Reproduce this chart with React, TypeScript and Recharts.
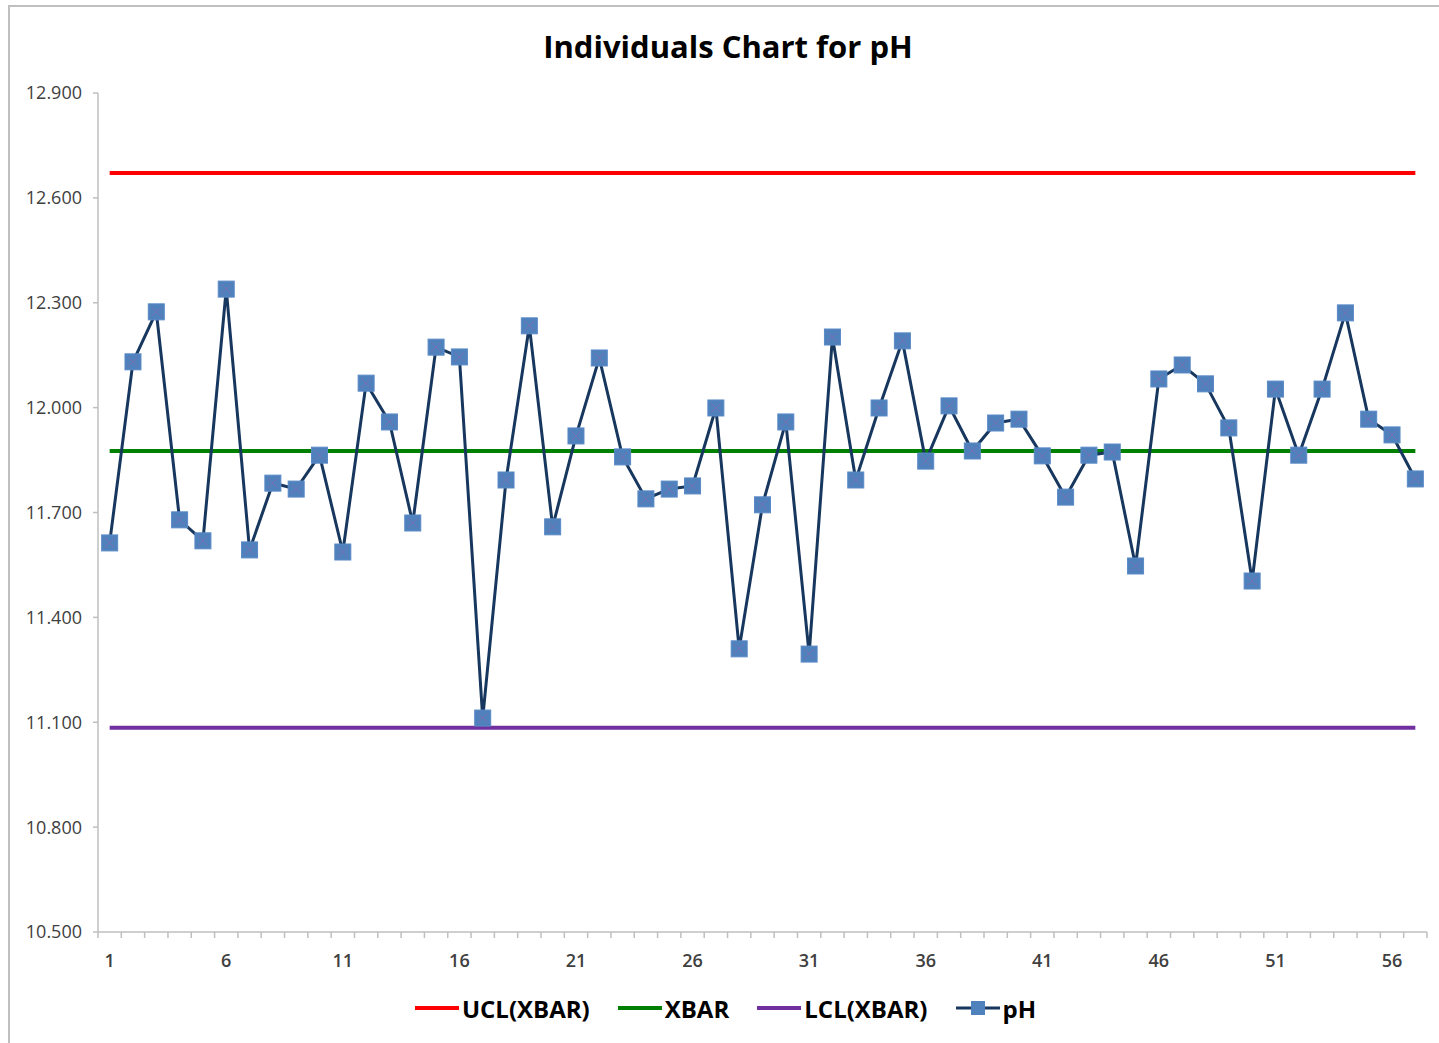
import React from "react";
import {
  LineChart,
  Line,
  XAxis,
  YAxis,
  Legend,
} from "recharts";

// pH readings for each sample
const phValues = [
  11.613, 12.131, 12.274, 11.679, 11.619, 12.339, 11.593, 11.784, 11.767, 11.864,
  11.587, 12.07, 11.959, 11.67, 12.173, 12.145, 11.112, 11.793, 12.234, 11.659,
  11.919, 12.142, 11.859, 11.739, 11.767, 11.776, 11.999, 11.31, 11.722, 11.959,
  11.295, 12.202, 11.793, 11.999, 12.191, 11.847, 12.005, 11.876, 11.956, 11.967,
  11.862, 11.744, 11.864, 11.873, 11.547, 12.082, 12.122, 12.068, 11.942, 11.504,
  12.053, 11.864, 12.053, 12.271, 11.967, 11.922, 11.796,
];

const ucl = 12.671;
const xbar = 11.876;
const lcl = 11.084;

const yTicks = [10.5, 10.8, 11.1, 11.4, 11.7, 12.0, 12.3, 12.6, 12.9];
const xLabels = [1, 6, 11, 16, 21, 26, 31, 36, 41, 46, 51, 56];

const samples = phValues.map((_, i) => i + 1);

const data = samples.map((s, i) => ({
  sample: s,
  ph: phValues[i],
  ucl,
  xbar,
  lcl,
}));

// tick marks sit between categories, like excel
const boundaries = [0, ...samples].map((s) => s + 0.5);
const xTicks = [...boundaries, ...xLabels];

const FONT = "'Open Sans', 'Liberation Sans', sans-serif";

const XTick = (props: any) => {
  const { x, y, payload } = props;
  const v = payload.value;
  if (v % 1 !== 0) {
    return <line x1={x} x2={x} y1={y} y2={y + 6} stroke="#bfbfbf" strokeWidth={1.5} />;
  }
  return (
    <text
      x={x}
      y={y + 35}
      textAnchor="middle"
      fill="#404040"
      fontSize={18}
      fontWeight={600}
      fontFamily={FONT}
    >
      {v}
    </text>
  );
};

const SquareDot = (props: any) => {
  const { cx, cy, index } = props;
  if (cx == null || cy == null) return null;
  const h = 8;
  return (
    <g key={`dot-${index}`}>
      <rect x={cx - h} y={cy - h} width={h * 2} height={h * 2} fill="#4f81bd" stroke="#5b8ac6" strokeWidth={1} />
      <line x1={cx - 5} y1={cy - 5} x2={cx + 5} y2={cy + 5} stroke="#8a6bb0" strokeWidth={1} opacity={0.7} />
      <line x1={cx - 5} y1={cy + 5} x2={cx + 5} y2={cy - 5} stroke="#8a6bb0" strokeWidth={1} opacity={0.7} />
    </g>
  );
};

const legendItems = [
  { name: "UCL(XBAR)", color: "#ff0000", marker: false },
  { name: "XBAR", color: "#008000", marker: false },
  { name: "LCL(XBAR)", color: "#7030a0", marker: false },
  { name: "pH", color: "#17375e", marker: true },
];

const LegendContent = () => (
  <div
    style={{
      height: 56,
      display: "flex",
      alignItems: "center",
      justifyContent: "center",
      gap: 28,
      fontFamily: FONT,
      fontWeight: 700,
      fontSize: 24,
      color: "#000",
      paddingLeft: 24,
    }}
  >
    {legendItems.map((it) => (
      <div key={it.name} style={{ display: "flex", alignItems: "center", gap: 3 }}>
        <svg width={44} height={20}>
          <line x1={0} x2={44} y1={10} y2={10} stroke={it.color} strokeWidth={it.marker ? 3 : 4} />
          {it.marker && <rect x={15} y={3} width={14} height={14} fill="#4f81bd" />}
        </svg>
        <span>{it.name}</span>
      </div>
    ))}
  </div>
);

export default function App() {
  return (
    <div
      style={{
        position: "absolute",
        left: 0,
        top: 0,
        width: 1439,
        height: 1043,
        background: "#fff",
      }}
    >
      <div
        style={{
          position: "absolute",
          left: 8,
          top: 5,
          width: 1431,
          height: 1038,
          borderTop: "2px solid #bfbfbf",
          borderLeft: "2px solid #bfbfbf",
          boxSizing: "border-box",
        }}
      />
      <div
        style={{
          position: "absolute",
          left: 0,
          top: 28,
          width: 1456,
          lineHeight: "36px",
          textAlign: "center",
          fontFamily: FONT,
          fontWeight: 700,
          fontSize: 31,
          color: "#000",
        }}
      >
        Individuals Chart for pH
      </div>
      <LineChart
        width={1439}
        height={1043}
        data={data}
        margin={{ top: 93, right: 12, bottom: 7, left: 0 }}
      >
        <XAxis
          dataKey="sample"
          type="number"
          domain={[0.5, 57.5]}
          ticks={xTicks}
          interval={0}
          tick={<XTick />}
          tickLine={false}
          tickSize={0}
          tickMargin={0}
          height={48}
          stroke="#bfbfbf"
          strokeWidth={1.5}
        />
        <YAxis
          type="number"
          domain={[10.5, 12.9]}
          ticks={yTicks}
          interval={0}
          width={98}
          tickSize={5}
          tickMargin={11}
          tickFormatter={(v: number) => v.toFixed(3)}
          tick={{ fill: "#404040", fontSize: 18, fontFamily: FONT }}
          stroke="#bfbfbf"
          strokeWidth={1.5}
        />
        <Legend verticalAlign="bottom" content={<LegendContent />} />
        <Line dataKey="ucl" name="UCL(XBAR)" stroke="#ff0000" strokeWidth={4} dot={false} isAnimationActive={false} />
        <Line dataKey="xbar" name="XBAR" stroke="#008000" strokeWidth={4} dot={false} isAnimationActive={false} />
        <Line dataKey="lcl" name="LCL(XBAR)" stroke="#7030a0" strokeWidth={4} dot={false} isAnimationActive={false} />
        <Line
          dataKey="ph"
          name="pH"
          stroke="#17375e"
          strokeWidth={3}
          dot={<SquareDot />}
          activeDot={false}
          isAnimationActive={false}
        />
      </LineChart>
    </div>
  );
}
